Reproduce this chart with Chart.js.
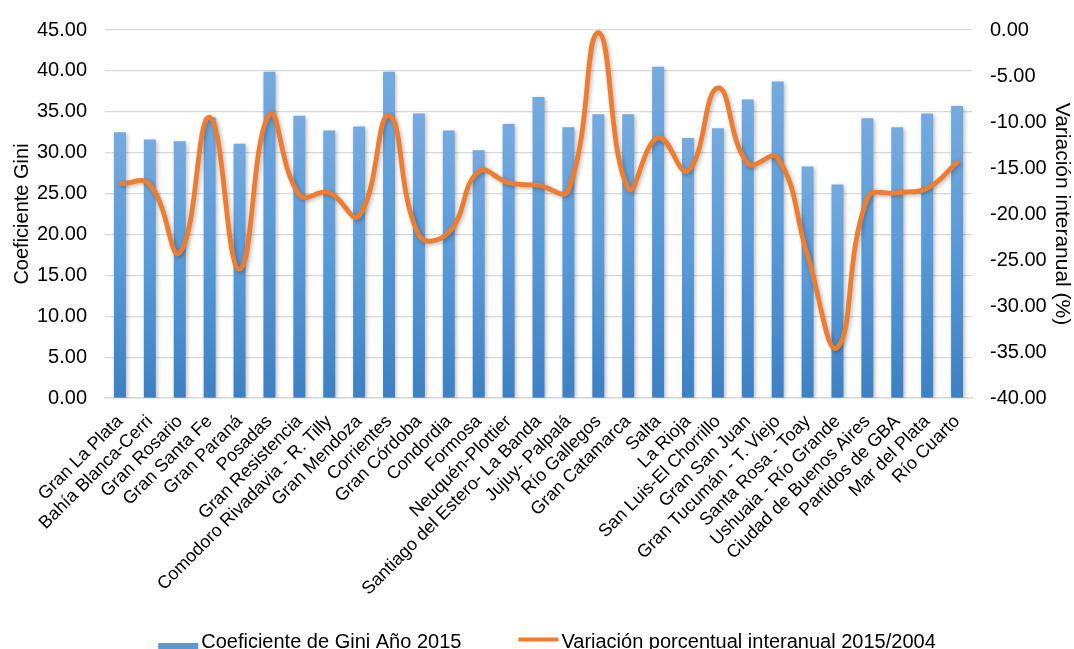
<!DOCTYPE html>
<html lang="es">
<head>
<meta charset="utf-8">
<title>Coeficiente de Gini por aglomerado</title>
<script src="https://cdn.jsdelivr.net/npm/chart.js@4.4.1/dist/chart.umd.min.js"></script>
<style>
  html, body { margin: 0; padding: 0; background: #ffffff; }
  #wrap { width: 1074px; height: 649px; position: relative; }
</style>
</head>
<body>
<div id="wrap"><canvas id="chart" width="1074" height="649"></canvas></div>
<script>
// Aglomerados urbanos (eje de categorías)
const categories = [
  'Gran La Plata', 'Bahía Blanca-Cerri', 'Gran Rosario', 'Gran Santa Fe', 'Gran Paraná',
  'Posadas', 'Gran Resistencia', 'Comodoro Rivadavia - R. Tilly', 'Gran Mendoza', 'Corrientes',
  'Gran Córdoba', 'Condordia', 'Formosa', 'Neuquén-Plottier', 'Santiago del Estero- La Banda',
  'Jujuy- Palpalá', 'Río Gallegos', 'Gran Catamarca', 'Salta', 'La Rioja',
  'San Luis-El Chorrillo', 'Gran San Juan', 'Gran Tucumán - T. Viejo', 'Santa Rosa - Toay', 'Ushuaia - Río Grande',
  'Ciudad de Buenos Aires', 'Partidos de GBA', 'Mar del Plata', 'Río Cuarto'
];

// Coeficiente de Gini, año 2015
const gini2015 = [
  32.5, 31.6, 31.4, 34.3, 31.1,
  39.9, 34.5, 32.7, 33.2, 39.9,
  34.8, 32.7, 30.3, 33.5, 36.8,
  33.1, 34.7, 34.7, 40.5, 31.8,
  33.0, 36.5, 38.7, 28.3, 26.1,
  34.2, 33.1, 34.8, 35.7
];

// Variación porcentual interanual 2015/2004
const variacion = [
  -16.7, -16.8, -24.2, -9.5, -26.0,
  -9.2, -17.9, -17.7, -20.2, -9.3,
  -22.3, -22.0, -15.4, -16.6, -16.9,
  -17.4, -0.3, -17.2, -11.7, -15.3,
  -6.3, -14.5, -13.9, -24.5, -34.5,
  -18.3, -17.7, -17.2, -14.4
];

// Valores de las marcas de los ejes
const giniTicks = [0, 5, 10, 15, 20, 25, 30, 35, 40, 45];
const variacionTicks = [-40, -35, -30, -25, -20, -15, -10, -5, 0];

const seriesLabels = ['Coeficiente de Gini Año 2015', 'Variación porcentual interanual 2015/2004'];

const FONT = '"Liberation Sans", Arial, Helvetica, sans-serif';
Chart.defaults.font.family = FONT;
Chart.defaults.color = '#000000';

const fmt = v => Number(v).toFixed(2);

// Degradado vertical de cada barra (claro arriba, oscuro abajo)
function barGradient(context) {
  const chart = context.chart;
  if (!chart.chartArea || context.type !== 'data') return '#5b9bd5';
  const yScale = chart.scales.y;
  const top = yScale.getPixelForValue(context.raw);
  const bottom = yScale.getPixelForValue(0);
  if (!isFinite(top) || !isFinite(bottom) || top === bottom) return '#5b9bd5';
  const g = chart.ctx.createLinearGradient(0, top, 0, bottom);
  g.addColorStop(0, '#75aadf');
  g.addColorStop(0.45, '#5a9bd8');
  g.addColorStop(1, '#3d80c3');
  return g;
}

// Sombra suave bajo barras y línea
const softShadow = {
  id: 'softShadow',
  beforeDatasetDraw(chart) {
    const ctx = chart.ctx;
    ctx.save();
    ctx.shadowColor = 'rgba(0,0,0,0.28)';
    ctx.shadowBlur = 4;
    ctx.shadowOffsetX = 1.5;
    ctx.shadowOffsetY = 1.5;
  },
  afterDatasetDraw(chart) {
    chart.ctx.restore();
  }
};

// Leyenda inferior: marcador + texto por serie
const bottomLegend = {
  id: 'bottomLegend',
  afterDraw(chart, args, opts) {
    const ctx = chart.ctx;
    ctx.save();
    ctx.font = opts.font;
    ctx.textBaseline = 'alphabetic';
    ctx.textAlign = 'left';
    const items = chart.data.datasets.map(ds => ({
      text: ds.label,
      kind: ds.type,
      color: ds.legendColor
    }));
    const widths = items.map(it => opts.markerWidth + opts.markerGap + ctx.measureText(it.text).width);
    const total = widths.reduce((a, b) => a + b, 0) + opts.itemGap * (items.length - 1);
    let x = opts.centerX - total / 2;
    items.forEach((it, i) => {
      if (it.kind === 'bar') {
        ctx.fillStyle = it.color;
        ctx.fillRect(x, opts.boxTop, opts.markerWidth, opts.boxHeight);
      } else {
        ctx.strokeStyle = it.color;
        ctx.lineWidth = opts.lineWidth;
        ctx.beginPath();
        ctx.moveTo(x, opts.lineY);
        ctx.lineTo(x + opts.markerWidth, opts.lineY);
        ctx.stroke();
      }
      ctx.fillStyle = '#000000';
      ctx.fillText(it.text, x + opts.markerWidth + opts.markerGap, opts.baseline);
      x += widths[i] + opts.itemGap;
    });
    ctx.restore();
  }
};

new Chart(document.getElementById('chart'), {
  data: {
    labels: categories,
    datasets: [
      {
        type: 'bar',
        label: seriesLabels[0],
        data: gini2015,
        yAxisID: 'y',
        order: 2,
        backgroundColor: barGradient,
        legendColor: '#5b9bd5',
        borderWidth: 0,
        barPercentage: 0.4,
        categoryPercentage: 1.0
      },
      {
        type: 'line',
        label: seriesLabels[1],
        data: variacion,
        yAxisID: 'y1',
        order: 1,
        borderColor: '#ed7d31',
        legendColor: '#ed7d31',
        borderWidth: 4.8,
        pointRadius: 0,
        pointHoverRadius: 0,
        tension: 0.45,
        fill: false,
        borderCapStyle: 'round',
        borderJoinStyle: 'round'
      }
    ]
  },
  options: {
    responsive: false,
    animation: false,
    devicePixelRatio: 1,
    layout: { padding: { top: 24, left: 0, right: 0, bottom: 0 } },
    plugins: {
      legend: { display: false },
      tooltip: { enabled: false },
      bottomLegend: {
        font: '20px ' + FONT,
        centerX: 547,
        markerWidth: 40,
        markerGap: 3,
        itemGap: 57,
        boxTop: 643,
        boxHeight: 10,
        lineY: 639.5,
        lineWidth: 4,
        baseline: 647.5
      }
    },
    scales: {
      x: {
        position: 'bottom',
        offset: true,
        grid: { display: false, drawTicks: false },
        border: { display: true, color: '#d9d9d9', width: 1.5 },
        ticks: {
          autoSkip: false,
          maxRotation: 45,
          minRotation: 45,
          padding: 13,
          font: { size: 18 },
          color: '#000000'
        },
        afterFit(scale) { scale.height = 649 - 398; }
      },
      y: {
        position: 'left',
        min: 0,
        max: 45,
        afterBuildTicks(scale) { scale.ticks = giniTicks.map(v => ({ value: v })); },
        grid: { color: '#d9d9d9', lineWidth: 1.2, drawTicks: false },
        border: { display: false },
        ticks: {
          padding: 18,
          font: { size: 20 },
          color: '#000000',
          callback: v => fmt(v)
        },
        title: {
          display: true,
          text: 'Coeficiente Gini',
          font: { size: 20 },
          color: '#000000',
          padding: { top: 10, bottom: 0 }
        },
        afterFit(scale) { scale.width = 105; }
      },
      y1: {
        position: 'right',
        min: -40,
        max: 0,
        afterBuildTicks(scale) { scale.ticks = variacionTicks.map(v => ({ value: v })); },
        grid: { display: false, drawTicks: false },
        border: { display: false },
        ticks: {
          padding: 18,
          font: { size: 20 },
          color: '#000000',
          callback: v => fmt(v)
        },
        title: {
          display: true,
          text: 'Variación interanual (%)',
          font: { size: 21 },
          color: '#000000',
          padding: { top: 0, bottom: 0 }
        },
        afterFit(scale) { scale.width = 102; }
      }
    }
  },
  plugins: [softShadow, bottomLegend]
});
</script>
</body>
</html>
